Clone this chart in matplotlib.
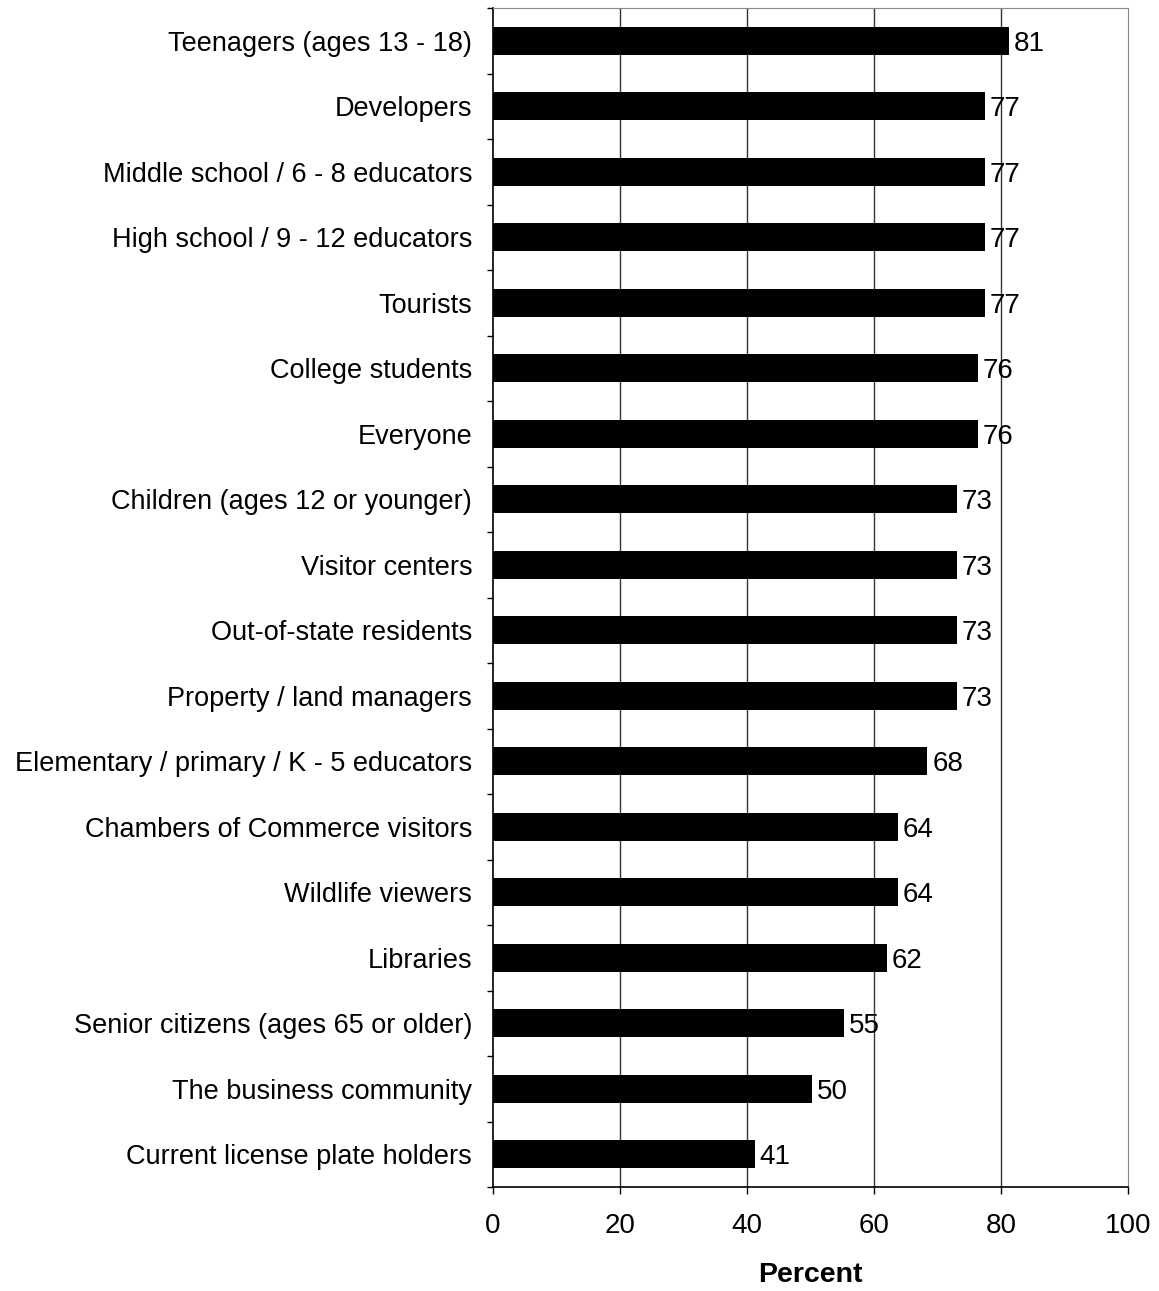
import numpy as np
import matplotlib.pyplot as plt

plt.rcParams['font.family'] = ['Liberation Sans', 'DejaVu Sans']

groups = ["Teenagers (ages 13 - 18)", "Developers", "Middle school / 6 - 8 educators",
          "High school / 9 - 12 educators", "Tourists", "College students", "Everyone",
          "Children (ages 12 or younger)", "Visitor centers", "Out-of-state residents",
          "Property / land managers", "Elementary / primary / K - 5 educators",
          "Chambers of Commerce visitors", "Wildlife viewers", "Libraries",
          "Senior citizens (ages 65 or older)", "The business community",
          "Current license plate holders"]
values = [81.3, 77.5, 77.5, 77.5, 77.5, 76.4, 76.4, 73.0, 73.0, 73.0, 73.0,
          68.4, 63.8, 63.8, 62.0, 55.3, 50.2, 41.2]
shown = [81, 77, 77, 77, 77, 76, 76, 73, 73, 73, 73, 68, 64, 64, 62, 55, 50, 41]
xticks = [0, 20, 40, 60, 80, 100]

fs = 19.5

fig = plt.figure(figsize=(11.59, 12.91), dpi=100)
ax = fig.add_axes([493/1159, 1 - 1187/1291, 635/1159, 1179/1291])

y = np.arange(len(groups))
ax.barh(y, values, height=0.42, color='black', zorder=3)
for yi, v, s in zip(y, values, shown):
    ax.annotate(str(s), (v, yi), xytext=(3.5, 0), textcoords='offset points',
                va='center_baseline', ha='left', fontsize=fs + 0.5, zorder=4)

ax.set_xlim(0, 100)
ax.set_ylim(len(groups) - 0.5, -0.5)
ax.set_xticks(xticks)
ax.set_xticklabels([str(t) for t in xticks], fontsize=fs + 0.5)
ax.set_yticks(y)
ax.set_yticklabels(groups, fontsize=fs)
ax.set_yticks(np.arange(len(groups) + 1) - 0.5, minor=True)
ax.tick_params(axis='y', which='major', length=0, pad=15)
ax.tick_params(axis='y', which='minor', length=4.5, width=1, color='black', direction='out')
ax.tick_params(axis='x', length=5, width=1, pad=14, color='black')

for gx in [20, 40, 60, 80]:
    ax.axvline(gx, color='#333333', linewidth=1, zorder=1)

ax.spines['left'].set_color('black')
ax.spines['bottom'].set_color('black')
ax.spines['left'].set_linewidth(1.2)
ax.spines['bottom'].set_linewidth(1.2)
ax.spines['top'].set_color('#888888')
ax.spines['right'].set_color('#888888')

ax.set_xlabel("Percent", fontsize=fs + 1, fontweight='bold', labelpad=16)

fig.savefig("out.png", dpi=100)
